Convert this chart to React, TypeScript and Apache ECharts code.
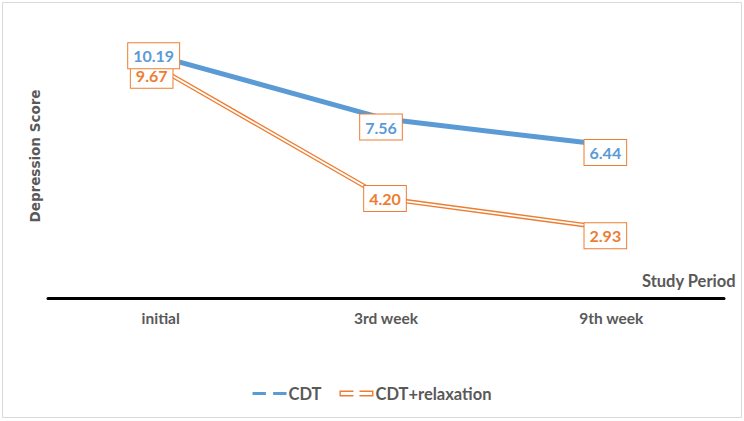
import React, { useEffect, useRef } from 'react';
import * as echarts from 'echarts';

const categories = ['initial', '3rd week', '9th week'];
const cdtValues = [10.19, 7.56, 6.44];
const relaxValues = [9.67, 4.2, 2.93];
const seriesNames = ['CDT', 'CDT+relaxation'];
const cdtLabelOffsets = [[-7, -1], [-5, 8], [-6, 7]];
const relaxLabelOffsets = [[-9, 6], [-1, 0], [-6, 7]];

const BLUE = '#5B9BD5';
const ORANGE = '#ED7D31';
const GRAY = '#595959';

function labelStyle(color: string) {
  return {
    show: true,
    position: 'inside',
    formatter: (p: any) => Number(p.value).toFixed(2),
    color,
    fontFamily: 'Lato',
    fontWeight: 'bold',
    fontSize: 16,
    backgroundColor: '#ffffff',
    borderColor: ORANGE,
    borderWidth: 1,
    padding: [5, 5, 4, 5],
  };
}

export default function App() {
  const ref = useRef<HTMLDivElement>(null);
  useEffect(() => {
    if (!ref.current) return;
    const chart = echarts.init(ref.current, undefined, { renderer: 'svg' });
    const cdtData = cdtValues.map((v, i) => ({ value: v, label: { offset: cdtLabelOffsets[i] } }));
    const relaxData = relaxValues.map((v, i) => ({ value: v, label: { offset: relaxLabelOffsets[i] } }));
    chart.setOption({
      animation: false,
      backgroundColor: '#ffffff',
      grid: { left: 48, right: 20, top: 14, bottom: 123 },
      xAxis: {
        type: 'category',
        data: categories,
        boundaryGap: true,
        axisLine: { lineStyle: { color: '#000000', width: 3 } },
        axisTick: { show: false },
        axisLabel: { color: GRAY, fontFamily: 'Lato', fontWeight: 'bold', fontSize: 15.5, margin: 12 },
      },
      yAxis: {
        type: 'value',
        min: 0,
        max: 12,
        axisLine: { show: false },
        axisTick: { show: false },
        axisLabel: { show: false },
        splitLine: { show: false },
        name: 'Depression Score',
        nameLocation: 'middle',
        nameGap: 6,
        nameTextStyle: { color: GRAY, fontFamily: 'DejaVu Sans', fontWeight: 'bold', fontSize: 13.5 },
      },
      legend: {
        left: 'center',
        top: 380,
        itemGap: 18,
        itemWidth: 34,
        itemHeight: 6,
        textStyle: { color: GRAY, fontFamily: 'Lato', fontWeight: 'bold', fontSize: 16.5, padding: [0, 0, 0, -3] },
        data: [
          {
            name: seriesNames[0],
            icon: 'path://M0,0h13v3h-13z M20,0h13v3h-13z',
            itemStyle: { color: BLUE, borderWidth: 0 },
          },
          {
            name: seriesNames[1],
            icon: 'path://M0,0h14v1.4h-14z M0,4.6h14v1.4h-14z M0,0h1.4v6h-1.4z M20,0h14v1.4h-14z M20,4.6h14v1.4h-14z M32.6,0h1.4v6h-1.4z',
            itemStyle: { color: ORANGE, borderWidth: 0 },
          },
        ],
      },
      graphic: [
        {
          type: 'rect',
          shape: { x: 2.5, y: 2.5, width: 739, height: 415 },
          style: { fill: 'none', stroke: '#D9D9D9', lineWidth: 1 },
          silent: true,
        },
        {
          type: 'text',
          right: 8,
          top: 272,
          style: { text: 'Study Period', fill: GRAY, font: 'bold 16.5px Lato' },
        },
      ],
      series: [
        {
          name: seriesNames[1],
          type: 'line',
          data: relaxValues,
          symbol: 'none',
          lineStyle: { color: ORANGE, width: 4.5 },
          itemStyle: { color: ORANGE },
          z: 2,
        },
        {
          name: 'relaxInner',
          type: 'line',
          data: relaxData,
          symbol: 'circle',
          symbolSize: 0,
          lineStyle: { color: '#ffffff', width: 1.8 },
          itemStyle: { color: '#ffffff' },
          label: labelStyle(ORANGE),
          silent: true,
          z: 3,
        },
        {
          name: seriesNames[0],
          type: 'line',
          data: cdtData,
          symbol: 'circle',
          symbolSize: 0,
          lineStyle: { color: BLUE, width: 5 },
          itemStyle: { color: BLUE },
          label: labelStyle(BLUE),
          z: 4,
        },
      ],
    });
    return () => chart.dispose();
  }, []);
  return <div ref={ref} style={{ position: 'fixed', left: 0, top: 0, width: 744, height: 421 }} />;
}
